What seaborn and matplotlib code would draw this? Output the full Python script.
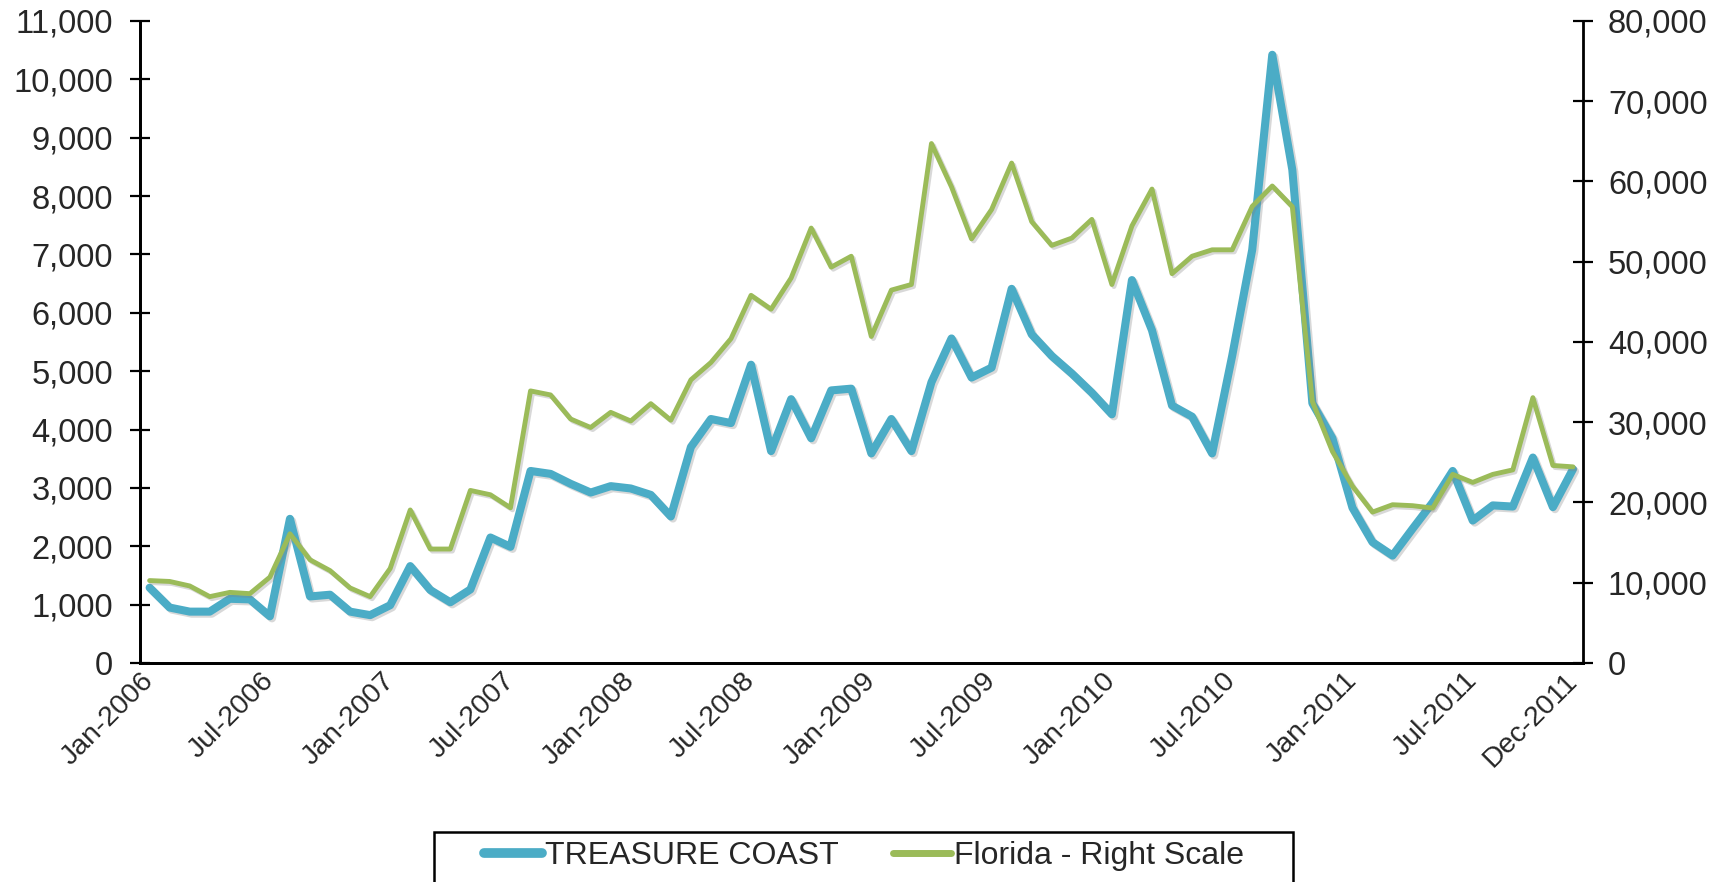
import numpy as np
import pandas as pd
import seaborn as sns
import matplotlib.pyplot as plt
import matplotlib.patheffects as pe
from matplotlib.lines import Line2D
from matplotlib.patches import Rectangle
from matplotlib.ticker import FuncFormatter, FixedLocator

# monthly categories Jan-2006 .. Dec-2011
months = list(pd.date_range("2006-01-01", periods=72, freq="MS").strftime("%b-%Y"))

treasure_coast = [1290, 950, 880, 880, 1100, 1090, 800, 2470, 1140, 1170, 880, 820,
                  990, 1660, 1250, 1040, 1260, 2150, 1990, 3290, 3240, 3070, 2920, 3030,
                  2990, 2880, 2510, 3700, 4180, 4110, 5110, 3630, 4520, 3850, 4670, 4700,
                  3590, 4180, 3630, 4810, 5560, 4890, 5060, 6410, 5630, 5260, 4960, 4630,
                  4260, 6560, 5700, 4410, 4220, 3590, 5260, 7080, 10420, 8450, 4450, 3850,
                  2660, 2070, 1840, 2300, 2750, 3290, 2440, 2700, 2680, 3520, 2670, 3320]

florida = [10270, 10160, 9600, 8270, 8800, 8640, 10700, 16100, 12860, 11510, 9350, 8270,
           11780, 19070, 14200, 14200, 21500, 20960, 19340, 33900, 33400, 30400, 29340, 31230,
           30150, 32310, 30250, 35280, 37440, 40410, 45810, 44080, 47970, 54190, 49320, 50680,
           40680, 46460, 47160, 64720, 59320, 52840, 56500, 62290, 54990, 52030, 52940, 55270,
           47160, 54460, 59050, 48510, 50680, 51480, 51480, 56890, 59430, 56850, 32580, 26360,
           22040, 18800, 19720, 19600, 19300, 23500, 22500, 23500, 24060, 33060, 24610, 24440]

tick_labels = ["Jan-2006", "Jul-2006", "Jan-2007", "Jul-2007", "Jan-2008", "Jul-2008",
               "Jan-2009", "Jul-2009", "Jan-2010", "Jul-2010", "Jan-2011", "Jul-2011",
               "Dec-2011"]
left_ticks = list(range(0, 11001, 1000))
right_ticks = list(range(0, 80001, 10000))

series_names = ["TREASURE COAST", "Florida - Right Scale"]
blue = "#4BACC6"
green = "#9BBB59"

df = pd.DataFrame({"month": months, "tc": treasure_coast, "fl": florida})
df["pos"] = np.arange(len(df))

sns.set_style("white")
plt.rcParams["font.family"] = ["Liberation Sans", "DejaVu Sans"]
plt.rcParams["font.size"] = 23

fig = plt.figure(figsize=(17.24, 8.82), dpi=100)
ax = fig.add_axes([0.08097, 0.2483, 0.83724, 0.7280])
ax2 = ax.twinx()

shadow = [pe.SimpleLineShadow(offset=(1.5, -1.5), alpha=0.3, shadow_color="gray"), pe.Normal()]

sns.lineplot(data=df, x="pos", y="tc", ax=ax, color=blue, linewidth=5.8,
             path_effects=shadow, legend=False)
sns.lineplot(data=df, x="pos", y="fl", ax=ax2, color=green, linewidth=3.5,
             path_effects=shadow, legend=False)

ax.set_xlim(-0.5, len(months) - 0.5)
ax.set_ylim(0, 11000)
ax2.set_ylim(0, 80000)
ax.set_xlabel("")
ax.set_ylabel("")
ax2.set_ylabel("")

comma = FuncFormatter(lambda v, p: f"{int(v):,}")
ax.yaxis.set_major_locator(FixedLocator(left_ticks))
ax.yaxis.set_major_formatter(comma)
ax2.yaxis.set_major_locator(FixedLocator(right_ticks))
ax2.yaxis.set_major_formatter(comma)

# labels at category centres, tick marks at category boundaries
label_pos = [months.index(t) for t in tick_labels]
ax.set_xticks(label_pos)
ax.set_xticklabels(tick_labels, rotation=45, ha="right", va="center",
                   rotation_mode="anchor")
ax.set_xticks(np.arange(-0.5, len(months)), minor=True)
ax.tick_params(axis="x", which="major", length=0, pad=10, labelsize=20.5)
ax.tick_params(axis="x", which="minor", direction="inout", length=13, width=1.6,
               color="black")
ax.tick_params(axis="y", which="major", direction="inout", length=14, width=1.6,
               pad=12, labelsize=23.5, color="black")
ax2.tick_params(axis="y", which="major", direction="inout", length=14, width=1.6,
                pad=11, labelsize=23.5, color="black", right=True, left=False)
ax.tick_params(axis="y", left=True)

for a in (ax, ax2):
    a.grid(False)
    a.spines["top"].set_visible(False)
    for s in ("left", "right", "bottom"):
        a.spines[s].set_color("black")
        a.spines[s].set_linewidth(2)
ax.spines["right"].set_visible(False)

# legend, box drawn separately so it runs off the bottom like the original
handles = [Line2D([0], [0], color=blue, linewidth=7, solid_capstyle="round"),
           Line2D([0], [0], color=green, linewidth=5, solid_capstyle="round")]
fig.legend(handles, series_names, loc="center", bbox_to_anchor=(0.5012, 1 - 856 / 882),
           ncol=2, frameon=False, fontsize=23, handlelength=1.8, handletextpad=0.1,
           columnspacing=1.7)
fig.patches.append(Rectangle((434 / 1724, 1 - 950 / 882), (1293 - 434) / 1724, 118 / 882,
                             transform=fig.transFigure, fill=False, edgecolor="black",
                             linewidth=1.8))

fig.savefig("out.png", dpi=100)
